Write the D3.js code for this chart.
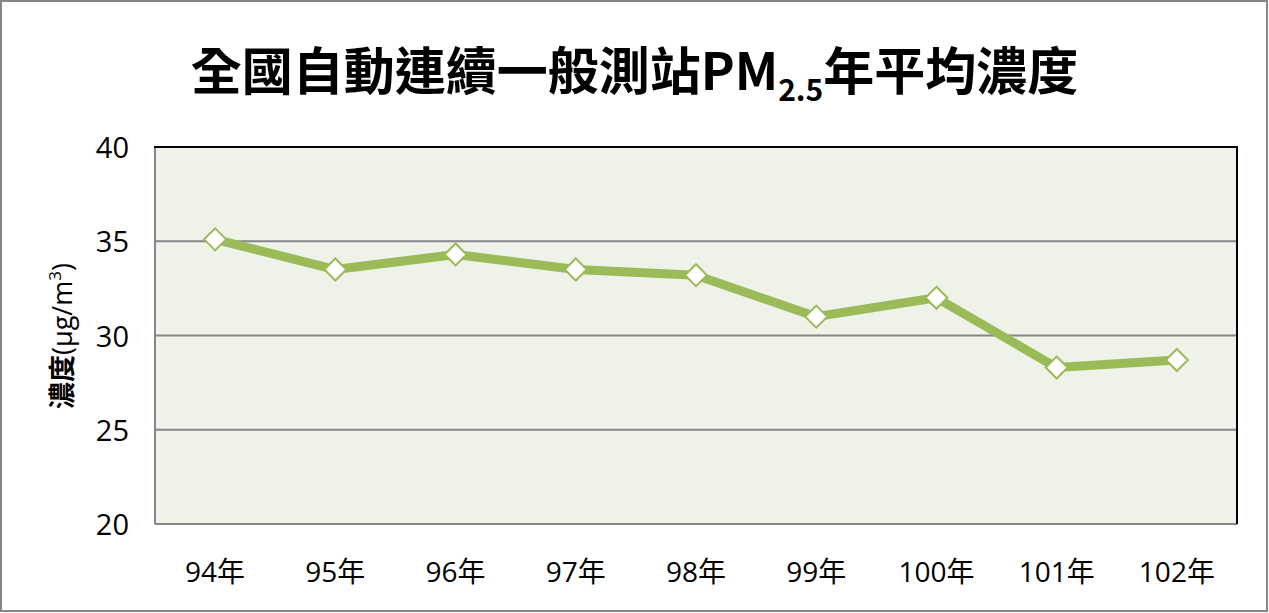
<!DOCTYPE html>
<html>
<head>
<meta charset="utf-8">
<script src="https://cdn.jsdelivr.net/npm/d3@7"></script>
<style>
  body { margin: 0; background: white; }
  svg { display: block; }
</style>
</head>
<body>
<div id="container"></div>
<script>
let w = 1269;
let h = 613;

// data
let years = ["94年", "95年", "96年", "97年", "98年", "99年", "100年", "101年", "102年"];
let pm25 = [35.1, 33.5, 34.3, 33.5, 33.2, 31.0, 32.0, 28.3, 28.7];
let yTicks = [20, 25, 30, 35, 40];

let plot = { left: 155, right: 1237, top: 147, bottom: 524 };

let viz = d3.select("#container").append("svg")
  .attr("width", w)
  .attr("height", h);

// outer frame
viz.append("rect")
  .attr("x", 1).attr("y", 1)
  .attr("width", w - 3).attr("height", h - 3)
  .attr("fill", "white")
  .attr("stroke", "#868686")
  .attr("stroke-width", 2);

let xScale = d3.scaleBand().domain(years).range([plot.left, plot.right]);
let yScale = d3.scaleLinear().domain([20, 40]).range([plot.bottom, plot.top]);

// plot background
viz.append("rect")
  .attr("x", plot.left).attr("y", plot.top)
  .attr("width", plot.right - plot.left)
  .attr("height", plot.bottom - plot.top)
  .attr("fill", "#eff2e9");

// gridlines
viz.selectAll(".grid").data(yTicks.filter(d => d > 20 && d < 40)).enter()
  .append("line")
  .attr("class", "grid")
  .attr("x1", plot.left).attr("x2", plot.right)
  .attr("y1", d => yScale(d)).attr("y2", d => yScale(d))
  .attr("stroke", "#868686")
  .attr("stroke-width", 2);

// borders: left/bottom gray, top/right black
viz.append("line").attr("x1", plot.left).attr("x2", plot.left)
  .attr("y1", plot.top).attr("y2", plot.bottom)
  .attr("stroke", "#868686").attr("stroke-width", 2);
viz.append("line").attr("x1", plot.left).attr("x2", plot.right)
  .attr("y1", plot.bottom).attr("y2", plot.bottom)
  .attr("stroke", "#868686").attr("stroke-width", 2);
viz.append("line").attr("x1", plot.left - 1).attr("x2", plot.right + 1)
  .attr("y1", plot.top).attr("y2", plot.top)
  .attr("stroke", "black").attr("stroke-width", 2);
viz.append("line").attr("x1", plot.right).attr("x2", plot.right)
  .attr("y1", plot.top).attr("y2", plot.bottom)
  .attr("stroke", "black").attr("stroke-width", 2);

// y tick labels
viz.selectAll(".ytick").data(yTicks).enter()
  .append("text")
  .attr("class", "ytick")
  .attr("x", 129)
  .attr("y", d => yScale(d) + 11)
  .attr("text-anchor", "end")
  .attr("font-family", "'Open Sans', 'Noto Sans', sans-serif")
  .attr("font-size", 29)
  .attr("fill", "black")
  .text(d => d);

// x tick labels
viz.selectAll(".xtick").data(years).enter()
  .append("text")
  .attr("class", "xtick")
  .attr("x", d => xScale(d) + xScale.bandwidth() / 2)
  .attr("y", 582)
  .attr("text-anchor", "middle")
  .attr("font-family", "'Open Sans', 'Noto Sans CJK TC', sans-serif")
  .attr("font-size", 28)
  .attr("fill", "black")
  .text(d => d);

// y axis title
let yt = viz.append("text")
  .attr("transform", "translate(72,336) rotate(-90)")
  .attr("text-anchor", "middle")
  .attr("font-family", "'Noto Sans CJK TC', sans-serif")
  .attr("font-size", 27)
  .attr("fill", "black");
yt.append("tspan").attr("font-weight", "bold").text("濃度");
yt.append("tspan").attr("font-family", "'Open Sans', sans-serif").text("(μg/m");
yt.append("tspan").attr("font-family", "'Open Sans', sans-serif")
  .attr("font-size", 17).attr("dy", -11).text("3");
yt.append("tspan").attr("font-family", "'Open Sans', sans-serif")
  .attr("dy", 11).text(")");

// title
let title = viz.append("text")
  .attr("x", w / 2)
  .attr("y", 90)
  .attr("text-anchor", "middle")
  .attr("font-family", "'Noto Sans CJK TC', sans-serif")
  .attr("font-weight", "bold")
  .attr("font-size", 51)
  .attr("fill", "black");
title.append("tspan").text("全國自動連續一般測站PM");
title.append("tspan").attr("font-size", 30).attr("dy", 11).text("2.5");
title.append("tspan").attr("dy", -11).text("年平均濃度");

// line
let lineMaker = d3.line()
  .x((d, i) => xScale(years[i]) + xScale.bandwidth() / 2)
  .y(d => yScale(d));

viz.append("path")
  .datum(pm25)
  .attr("d", lineMaker)
  .attr("fill", "none")
  .attr("stroke", "#9bbb59")
  .attr("stroke-width", 9)
  .attr("stroke-linejoin", "round");

// diamond markers
viz.selectAll(".marker").data(pm25).enter()
  .append("path")
  .attr("class", "marker")
  .attr("d", "M0,-11 L11,0 L0,11 L-11,0 Z")
  .attr("transform", (d, i) => "translate(" + (xScale(years[i]) + xScale.bandwidth() / 2) + "," + yScale(d) + ")")
  .attr("fill", "white")
  .attr("stroke", "#9bbb59")
  .attr("stroke-width", 2);
</script>
</body>
</html>
